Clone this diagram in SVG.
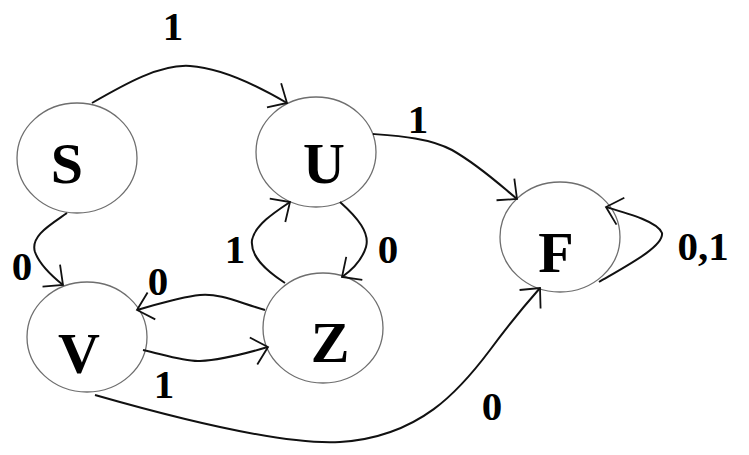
<svg xmlns="http://www.w3.org/2000/svg" width="749" height="455" viewBox="0 0 749 455">
<style>
.node ellipse{fill:#fff;stroke:#6e6e6e;stroke-width:1.3}
.node text{font-family:"Liberation Serif","Times New Roman",serif;font-weight:bold;font-size:58px;text-anchor:middle;fill:#000}
.edge{fill:none;stroke:#111;stroke-width:2}
.lbl{font-family:"Liberation Serif","Times New Roman",serif;font-weight:bold;font-size:41px;text-anchor:middle;fill:#000}
</style>
<defs>
<marker id="arr" markerUnits="userSpaceOnUse" markerWidth="40" markerHeight="40" refX="0" refY="0" viewBox="-20 -20 40 40" orient="auto" overflow="visible">
<path d="M-15,-14 L0,0 L-15,14" fill="none" stroke="#111" stroke-width="1.8"/>
</marker>
</defs>
<rect width="749" height="455" fill="#fff"/>
<g id="node-S" class="node"><ellipse cx="77" cy="158" rx="60" ry="55"/><text x="67" y="183">S</text></g>
<g id="node-U" class="node"><ellipse cx="316" cy="152" rx="60" ry="55"/><text x="324" y="183">U</text></g>
<g id="node-V" class="node"><ellipse cx="87" cy="337" rx="60" ry="55"/><text x="79" y="373">V</text></g>
<g id="node-Z" class="node"><ellipse cx="323" cy="328" rx="60" ry="55"/><text x="330" y="362">Z</text></g>
<g id="node-F" class="node"><ellipse cx="560" cy="237" rx="60" ry="55"/><text x="556" y="272">F</text></g>
<g id="connectors">
<path class="edge" marker-end="url(#arr)" d="M92,103 C125,84 160,64 190,66 C222,68 258,86 287,103"/>
<path class="edge" marker-end="url(#arr)" d="M67,213 C50,225 30,236 35,252 C40,266 53,277 63,285"/>
<path class="edge" marker-end="url(#arr)" d="M340,202 C358,218 370,233 366,247 C362,260 352,270 342,277"/>
<path class="edge" marker-end="url(#arr)" d="M285,283 C265,270 250,256 252,240 C255,225 275,212 290,202"/>
<path class="edge" marker-end="url(#arr)" d="M265,310 C240,303 220,293 200,295 C180,297 158,304 137,310"/>
<path class="edge" marker-end="url(#arr)" d="M143,350 C165,355 185,362 200,361 C225,360 250,352 268,347"/>
<path class="edge" marker-end="url(#arr)" d="M95,395 C200,425 290,445 340,442 C420,437 460,390 490,350 C510,323 525,305 540,288"/>
<path class="edge" marker-end="url(#arr)" d="M373,134 C400,136 430,138 452,150 C480,166 500,185 517,199"/>
<path class="edge" marker-end="url(#arr)" d="M599,282 C630,264 664,246 662,233 C658,222 630,214 606,207"/>
</g>
<g id="labels">
<text class="lbl" x="173" y="40">1</text>
<text class="lbl" x="418" y="133">1</text>
<text class="lbl" x="388" y="263">0</text>
<text class="lbl" x="703" y="260">0,1</text>
<text class="lbl" x="22" y="280">0</text>
<text class="lbl" x="235" y="263">1</text>
<text class="lbl" x="158" y="295">0</text>
<text class="lbl" x="164" y="398">1</text>
<text class="lbl" x="492" y="420">0</text>
</g>
</svg>
